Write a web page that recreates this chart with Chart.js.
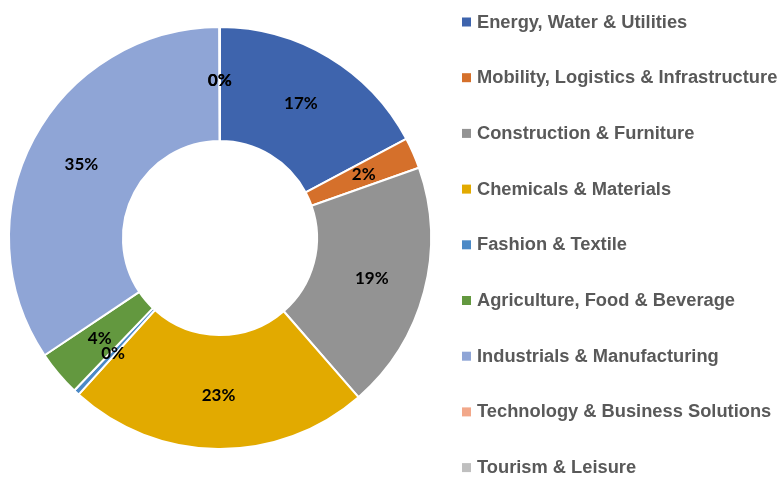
<!DOCTYPE html>
<html>
<head>
<meta charset="utf-8">
<script src="https://cdn.jsdelivr.net/npm/chart.js@4.4.1/dist/chart.umd.min.js"></script>
<style>
  html, body { margin: 0; padding: 0; background: #fff; }
  #wrap { width: 780px; height: 477px; }
</style>
</head>
<body>
<div id="wrap"><canvas id="sectorChart" width="780" height="477"></canvas></div>
<script>
const sectors = [
    "Energy, Water & Utilities",
    "Mobility, Logistics & Infrastructure",
    "Construction & Furniture",
    "Chemicals & Materials",
    "Fashion & Textile",
    "Agriculture, Food & Beverage",
    "Industrials & Manufacturing",
    "Technology & Business Solutions",
    "Tourism & Leisure"
];

// share of companies per sector (%)
const shares = [17.3, 2.4, 19.1, 23.2, 0.45, 3.5, 34.5, 0.05, 0.0];

const sectorColors = [
    "#3e64ad",
    "#d5702b",
    "#939393",
    "#e2aa00",
    "#4b89c6",
    "#63983f",
    "#8fa5d6",
    "#f2a88a",
    "#bfbfbf"
];

// percent labels inside the ring
const ringLabels = {
    id: 'ringLabels',
    afterDatasetsDraw(chart) {
        const ctx = chart.ctx;
        const meta = chart.getDatasetMeta(0);
        const data = chart.data.datasets[0].data;
        ctx.save();
        ctx.font = 'bold 17px Lato, "Liberation Sans", sans-serif';
        ctx.fillStyle = '#000';
        ctx.textAlign = 'center';
        ctx.textBaseline = 'middle';
        meta.data.forEach((arc, i) => {
            const p = arc.getProps(['x', 'y', 'startAngle', 'endAngle', 'innerRadius', 'outerRadius'], true);
            const mid = (p.startAngle + p.endAngle) / 2;
            const r = (p.innerRadius + p.outerRadius) / 2 + 3;
            ctx.fillText(Math.round(data[i]) + '%', p.x + Math.cos(mid) * r, p.y + Math.sin(mid) * r);
        });
        ctx.restore();
    }
};

// legend on the right, one item per row
const sideLegend = {
    id: 'sideLegend',
    afterDraw(chart, args, opts) {
        const ctx = chart.ctx;
        const colors = chart.data.datasets[0].backgroundColor;
        ctx.save();
        ctx.font = 'bold 18.3px "Liberation Sans", Arial, sans-serif';
        ctx.textBaseline = 'alphabetic';
        chart.data.labels.forEach((label, i) => {
            const y = opts.top + i * opts.step;
            ctx.fillStyle = colors[i];
            ctx.fillRect(opts.left, y - 4.5, 9, 9);
            ctx.fillStyle = '#595959';
            ctx.fillText(label, opts.left + 15, y + 5.5);
        });
        ctx.restore();
    }
};

const ctx = document.getElementById('sectorChart').getContext('2d');
new Chart(ctx, {
    type: 'doughnut',
    data: {
        labels: sectors,
        datasets: [{
            data: shares,
            backgroundColor: sectorColors,
            borderColor: '#ffffff',
            borderWidth: 2
        }]
    },
    options: {
        responsive: false,
        animation: false,
        cutout: '46%',
        layout: { padding: { top: 26, bottom: 27, left: 8, right: 348 } },
        plugins: {
            legend: { display: false },
            tooltip: { enabled: false },
            sideLegend: { left: 462, top: 22, step: 55.7 }
        }
    },
    plugins: [ringLabels, sideLegend]
});
</script>
</body>
</html>
